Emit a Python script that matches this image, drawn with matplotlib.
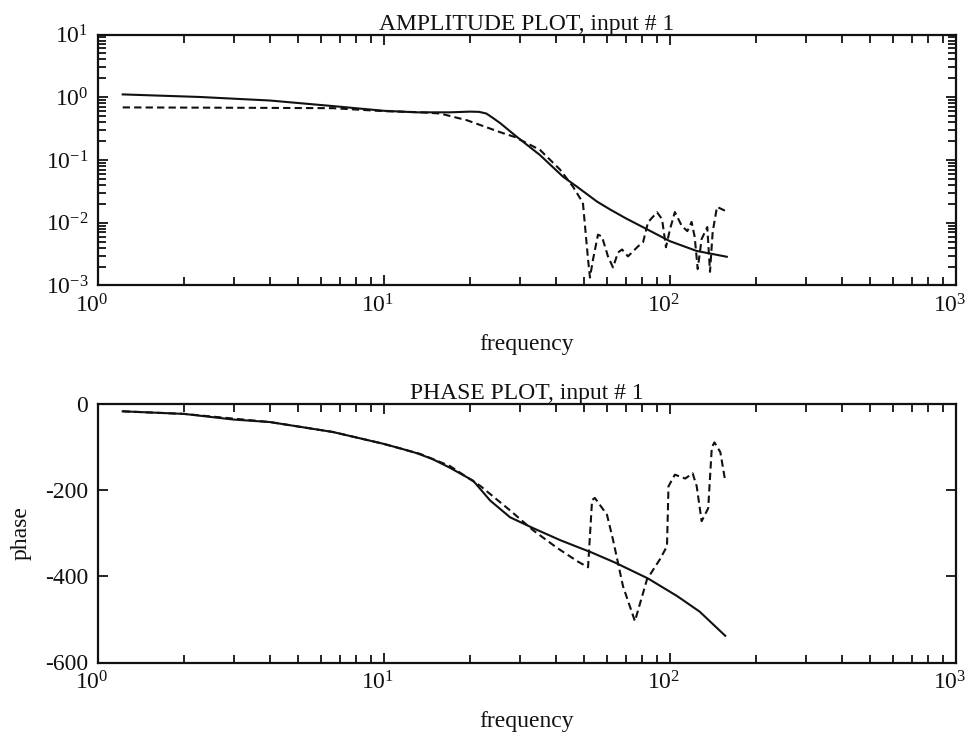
import matplotlib
matplotlib.use("Agg")
import matplotlib.pyplot as plt
from matplotlib.ticker import LogLocator, FixedLocator, NullFormatter, NullLocator
from matplotlib.transforms import ScaledTranslation

plt.rcParams['font.family'] = ['Liberation Serif', 'DejaVu Serif']
plt.rcParams['mathtext.fontset'] = 'custom'
plt.rcParams['mathtext.rm'] = 'Liberation Serif'
plt.rcParams['axes.unicode_minus'] = False

# ---------------- data ----------------
amp_solid_f = [1.22, 2.27, 3.99, 6.63, 10.0, 13.0, 17.0, 20.0, 21.5, 22.8, 24.0, 25.5,
               29.2, 35.1, 42.3, 47.3, 55.6, 61.7, 70.0, 83.1, 100, 124, 158]
amp_solid_a = [1.11, 1.01, 0.887, 0.723, 0.608, 0.575, 0.575, 0.59, 0.585, 0.55,
               0.47, 0.386, 0.232, 0.120, 0.054, 0.0375, 0.0217, 0.0163, 0.0118,
               0.00787, 0.00508, 0.00355, 0.00287]

amp_dash_f = [1.22, 3.0, 6.63, 10.0, 13.0, 15.7, 19.5, 25.5, 28.7, 35.1, 41.3, 45.8,
              49.6, 51.7, 52.5, 53.8, 56.0, 57.8, 60.7, 63.2, 65.8, 68.0, 71.3,
              77.3, 80.5, 83.8, 90.1, 93.8, 96.8, 100, 104, 110, 115, 119, 122,
              125, 129, 135, 138, 141, 146, 156]
amp_dash_a = [0.689, 0.68, 0.67, 0.6, 0.58, 0.551, 0.43, 0.277, 0.232, 0.145, 0.070,
              0.0375, 0.0208, 0.00259, 0.00134, 0.00259, 0.00647, 0.00604, 0.0029,
              0.00194, 0.00336, 0.00375, 0.00291, 0.0042, 0.00489, 0.0102, 0.0147,
              0.0114, 0.00407, 0.00789, 0.0148, 0.00885, 0.00736, 0.0103, 0.00593,
              0.00183, 0.00551, 0.00855, 0.00165, 0.00714, 0.0179, 0.0155]

ph_solid_f = [1.22, 2.0, 2.97, 4.0, 6.63, 9.9, 11.4, 13.0, 14.8, 17.0, 20.5, 23.5,
              27.6, 33.2, 41.3, 48.4, 52.5, 64.2, 83.8, 106, 127, 156]
ph_solid_p = [-17, -23, -36, -42, -65, -92, -103, -114, -128, -148, -178, -224,
              -263, -288, -316, -334, -343, -368, -405, -446, -482, -538]

ph_dash_f = [1.22, 2.0, 4.0, 6.63, 9.9, 13.4, 17.0, 21.7, 27.6, 33.2, 40.3, 47.7,
             51.7, 53.4, 54.6, 60.2, 63.2, 68.5, 75.4, 83.1, 92.3, 97.6, 98.8, 104,
             113, 120, 124, 129, 136, 140, 143, 150, 156]
ph_dash_p = [-17, -23, -42, -65, -92, -116, -144, -190, -247, -293, -334, -366,
             -379, -223, -218, -257, -315, -423, -504, -407, -360, -330, -191, -164,
             -173, -161, -191, -272, -242, -101, -89, -112, -179]

amp_title = "AMPLITUDE PLOT, input # 1"
ph_title = "PHASE PLOT, input # 1"
xlabel = "frequency"
ph_ylabel = "phase"
x_ticks = [1, 10, 100, 1000]
ph_yticks = [0, -200, -400, -600]
xlim = (1, 1000)
amp_ylim = (1e-3, 1e1)
ph_ylim = (-600, 0)

# ---------------- figure ----------------
W, H = 968, 737
fig = plt.figure(figsize=(W / 100, H / 100), dpi=100)
ax1 = fig.add_axes([98 / W, 1 - 285.5 / H, 858 / W, 251 / H])
ax2 = fig.add_axes([98 / W, 1 - 662.5 / H, 858 / W, 258.5 / H])

FS = 17
LW = 1.5
DASH = (3.5, 2.0)
ink = '#111111'

for ax in (ax1, ax2):
    ax.set_xscale('log')
    ax.set_xlim(*xlim)
    ax.xaxis.set_major_locator(FixedLocator(x_ticks))
    ax.xaxis.set_minor_locator(LogLocator(base=10, subs=range(2, 10), numticks=30))
    ax.xaxis.set_minor_formatter(NullFormatter())
    ax.tick_params(axis='both', which='both', direction='in', top=True, right=True,
                   width=1.3, colors=ink, labelcolor=ink, labelsize=FS)
    ax.tick_params(axis='both', which='major', length=7)
    ax.tick_params(axis='both', which='minor', length=6)
    ax.tick_params(axis='x', which='both', pad=6)
    ax.tick_params(axis='y', which='both', pad=7)
    for s in ax.spines.values():
        s.set_linewidth(1.6)
        s.set_color(ink)
    ax.set_xlabel(xlabel, fontsize=FS, labelpad=12, color=ink)

# amplitude
ax1.set_yscale('log')
ax1.set_ylim(*amp_ylim)
ax1.yaxis.set_major_locator(LogLocator(base=10, numticks=10))
ax1.yaxis.set_minor_locator(LogLocator(base=10, subs=range(2, 10), numticks=30))
ax1.yaxis.set_minor_formatter(NullFormatter())
ax1.plot(amp_solid_f, amp_solid_a, color=ink, lw=LW, solid_joinstyle='round')
ax1.plot(amp_dash_f, amp_dash_a, color=ink, lw=LW, dashes=DASH)
ax1.set_title(amp_title, fontsize=FS, pad=3, color=ink)

# phase
ax2.set_ylim(*ph_ylim)
ax2.yaxis.set_major_locator(FixedLocator(ph_yticks))
ax2.yaxis.set_minor_locator(NullLocator())
ax2.plot(ph_solid_f, ph_solid_p, color=ink, lw=LW, solid_joinstyle='round')
ax2.plot(ph_dash_f, ph_dash_p, color=ink, lw=LW, dashes=DASH)
ax2.set_title(ph_title, fontsize=FS, pad=3, color=ink)
ax2.set_ylabel(ph_ylabel, fontsize=FS, labelpad=10, color=ink)

# x tick labels sit slightly left of their ticks, as in the reference
shift = ScaledTranslation(-6 / 100, 0, fig.dpi_scale_trans)
fig.canvas.draw()
for ax in (ax1, ax2):
    for t in ax.xaxis.get_major_ticks():
        t.label1.set_transform(t.label1.get_transform() + shift)

fig.savefig("out.png", dpi=100, facecolor='white')
